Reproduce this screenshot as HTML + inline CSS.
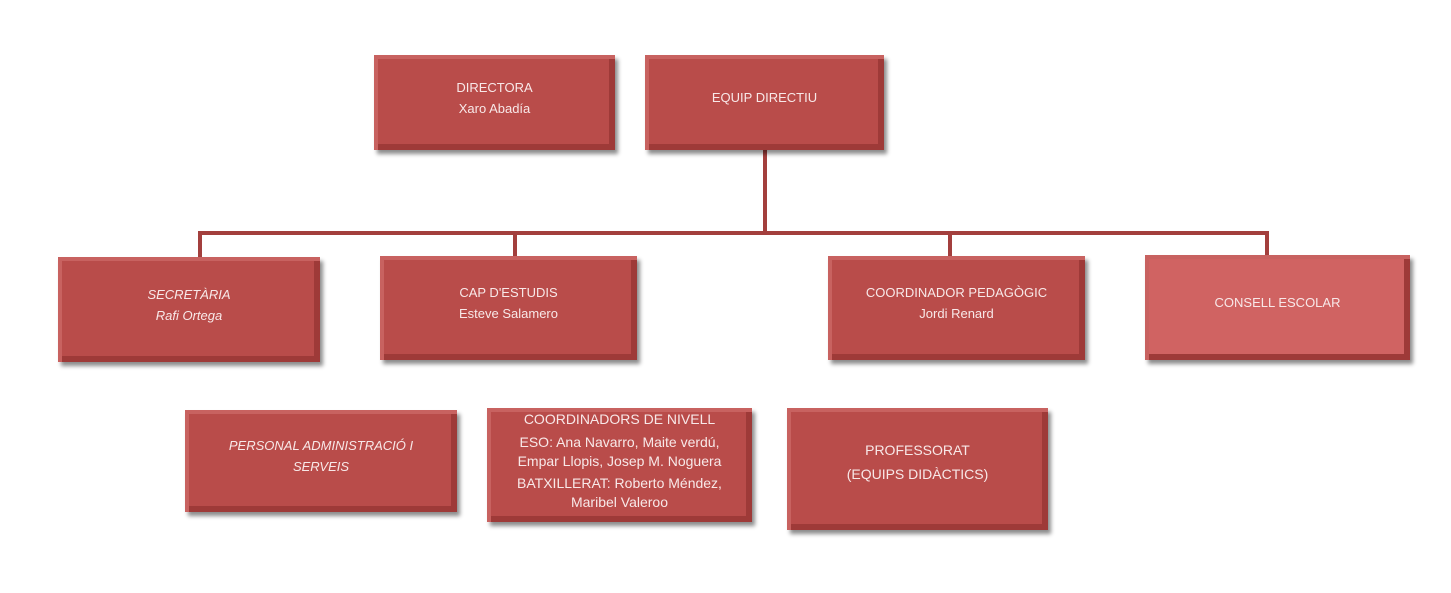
<!DOCTYPE html>
<html><head><meta charset="utf-8"><style>
body{margin:0;width:1451px;height:593px;background:#fff;position:relative;overflow:hidden;font-family:"Liberation Sans",sans-serif}
.b{position:absolute;background:#b94c4a;color:#f8e8e8;font-size:13px;text-align:center;display:flex;flex-direction:column;justify-content:center;box-sizing:border-box;padding-bottom:10px;
box-shadow:inset 4px 4px 0 #c86260,inset -6px -6px 0 #9e3a38,3px 4px 4px rgba(0,0,0,.45);line-height:21px}
.l{position:absolute;background:#a33f3d}
</style></head><body>
<div class="l" style="left:763px;top:150px;width:4px;height:85px"></div>
<div class="l" style="left:199px;top:231px;width:1070px;height:4px"></div>
<div class="l" style="left:198px;top:231px;width:4px;height:27px"></div>
<div class="l" style="left:513px;top:231px;width:4px;height:26px"></div>
<div class="l" style="left:948px;top:231px;width:4px;height:26px"></div>
<div class="l" style="left:1265px;top:231px;width:4px;height:26px"></div>

<div class="b" style="left:374px;top:55px;width:241px;height:95px">DIRECTORA<br>Xaro Abadía</div>
<div class="b" style="left:645px;top:55px;width:239px;height:95px">EQUIP DIRECTIU</div>
<div class="b" style="left:58px;top:257px;width:262px;height:105px;font-style:italic">SECRETÀRIA<br>Rafi Ortega</div>
<div class="b" style="left:380px;top:256px;width:257px;height:104px">CAP D'ESTUDIS<br>Esteve Salamero</div>
<div class="b" style="left:828px;top:256px;width:257px;height:104px">COORDINADOR PEDAGÒGIC<br>Jordi Renard</div>
<div class="b" style="left:1145px;top:255px;width:265px;height:105px;background:#d06362">CONSELL ESCOLAR</div>
<div class="b" style="left:185px;top:410px;width:272px;height:102px;font-style:italic">PERSONAL ADMINISTRACIÓ I<br>SERVEIS</div>
<div class="b" style="left:487px;top:408px;width:265px;height:114px;font-size:14px;line-height:19px;justify-content:flex-start;padding-top:2px">COORDINADORS DE NIVELL<div style="height:4px"></div>ESO: Ana Navarro, Maite verdú,<br>Empar Llopis, Josep M. Noguera<div style="height:4px"></div>BATXILLERAT: Roberto Méndez,<br>Maribel Valeroo</div>
<div class="b" style="left:787px;top:408px;width:261px;height:122px;font-size:14px;line-height:24px;padding-bottom:14px">PROFESSORAT<br>(EQUIPS DIDÀCTICS)</div>
</body></html>
